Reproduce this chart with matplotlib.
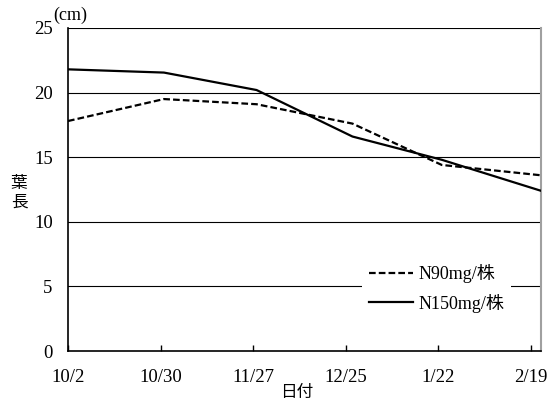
import matplotlib
matplotlib.use("Agg")
import matplotlib.pyplot as plt

# days counted from 10/2
days = [0, 29, 57, 86, 113, 143]
n90 = [17.8, 19.5, 19.1, 17.6, 14.4, 13.6]
n150 = [21.8, 21.55, 20.2, 16.6, 14.8, 12.4]

tick_days = [0, 28, 56, 84, 112, 140]
tick_labels = ["10/2", "10/30", "11/27", "12/25", "1/22", "2/19"]
y_ticks = [0, 5, 10, 15, 20, 25]

serif = ["Liberation Serif", "Noto Sans CJK JP"]
gothic = ["Noto Sans CJK JP", "DejaVu Sans"]

fig = plt.figure(figsize=(5.59, 4.03), dpi=100)
ax = fig.add_axes([68 / 559, 1 - 351 / 403, 473 / 559, 323 / 403])

for y in y_ticks[1:]:
    ax.axhline(y, color="black", lw=0.8, zorder=1)

ax.plot(days, n90, color="black", lw=1.6, dashes=(3, 1.4), label="N90mg/株", zorder=3)
ax.plot(days, n150, color="black", lw=1.6, label="N150mg/株", zorder=3)

ax.set_xlim(0, 143)
ax.set_ylim(0, 25)
ax.set_xticks(tick_days)
ax.set_xticklabels(tick_labels, family=serif, fontsize=13.5)
ax.set_yticks(y_ticks)
ax.set_yticklabels([str(v) for v in y_ticks], family=serif, fontsize=13.5)
ax.tick_params(axis="x", direction="in", length=4, width=1, pad=13)
ax.tick_params(axis="y", length=0, pad=11)

ax.spines["top"].set_visible(False)
ax.spines["right"].set_color("#a0a0a0")
ax.spines["right"].set_linewidth(1.5)
ax.spines["left"].set_linewidth(1.2)
ax.spines["bottom"].set_linewidth(1.2)

leg = ax.legend(loc="upper left", bbox_to_anchor=(0.603, 0.32), frameon=True,
                fancybox=False, edgecolor="none", facecolor="white", framealpha=1,
                prop={"family": serif, "size": 13}, handlelength=2.4,
                handletextpad=0.3, labelspacing=0.6, borderpad=0.4)

fig.text(53 / 559, 1 - 15 / 403, "(cm)", family=serif, fontsize=13, va="center", ha="left")
fig.text(19 / 559, 1 - 193 / 403, "葉\n長", family=gothic, fontsize=12, va="center",
         ha="center", linespacing=1.1)
fig.text(297 / 559, 1 - 393 / 403, "日付", family=gothic, fontsize=12, va="center", ha="center")

fig.savefig("out.png", dpi=100)
